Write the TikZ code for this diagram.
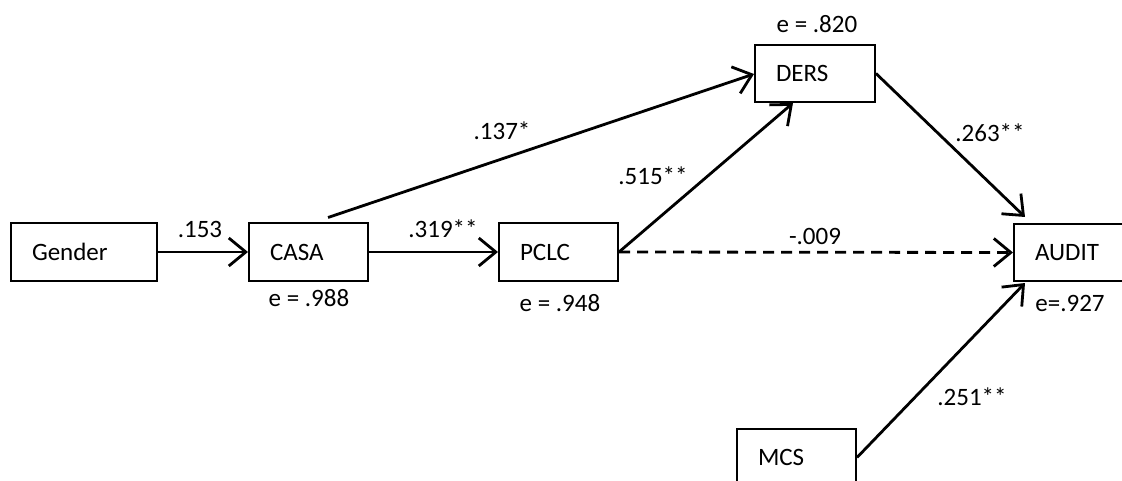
\documentclass[tikz,border=0pt]{standalone}
\usepackage{fontspec}
\setmainfont{Carlito}
\usetikzlibrary{arrows.meta,calc}
\begin{document}
\begin{tikzpicture}[x=1pt,y=-1pt,
  font=\fontsize{25}{30}\selectfont,
  varbox/.style={draw, line width=2pt, minimum height=57pt, inner xsep=21pt, inner ysep=0pt, text width=#1, align=left},
  conn/.style={line width=2.8pt, -{Straight Barb[length=17pt,width=28pt,line width=2.8pt]}},
  lbl/.style={anchor=base, inner sep=0pt}]
\useasboundingbox (0,0) rectangle (1122,481);
\fill[white] (0,0) rectangle (1122,481);
% boxes
\node[varbox=104pt] (gender) at (84,252) {Gender};
\node[varbox=77pt] (casa) at (308.5,252) {CASA};
\node[varbox=77pt] (pclc) at (558.5,252) {PCLC};
\node[varbox=78pt] (ders) at (815,73.5) {DERS};
\node[varbox=78pt] (audit) at (1074,252.5) {AUDIT};
\node[varbox=77pt] (mcs) at (796.5,457.5) {MCS};
% helper coordinates
\coordinate (casatop) at ($(casa.north)+(19.5,-5)$);
\coordinate (dersin) at ($(ders.west)+(0,0.5)$);
\coordinate (dersbot) at ($(ders.south)+(-22,0)$);
\coordinate (audtop) at ($(audit.north west)+(12,-6)$);
\coordinate (audbot) at ($(audit.south west)+(12,1)$);
% connectors
\draw[conn] (gender.east) -- (casa.west);
\draw[conn] (casa.east) -- (pclc.west);
\draw[conn] (casatop) -- (dersin);
\draw[conn] (pclc.east) -- (dersbot);
\draw[conn, dash pattern=on 11pt off 7pt] (pclc.east) -- (audit.west);
\draw[conn] (ders.east) -- (audtop);
\draw[conn] (mcs.east) -- (audbot);
% labels
\node[lbl] (l1) at (200,238) {.153};
\node[lbl] (l2) at (443,238) {.319**};
\node[lbl] (l3) at (502,140) {.137*};
\node[lbl] (l4) at (653,185) {.515**};
\node[lbl] (l5) at (815,245) {-.009};
\node[lbl] (l6) at (990,142) {.263**};
\node[lbl] (l7) at (972,405) {.251**};
\node[lbl] (e1) at (309,306) {e = .988};
\node[lbl] (e2) at (560,311) {e = .948};
\node[lbl] (e3) at (817,33) {e = .820};
\node[lbl] (e4) at (1070,311) {e=.927};
\end{tikzpicture}
\end{document}
